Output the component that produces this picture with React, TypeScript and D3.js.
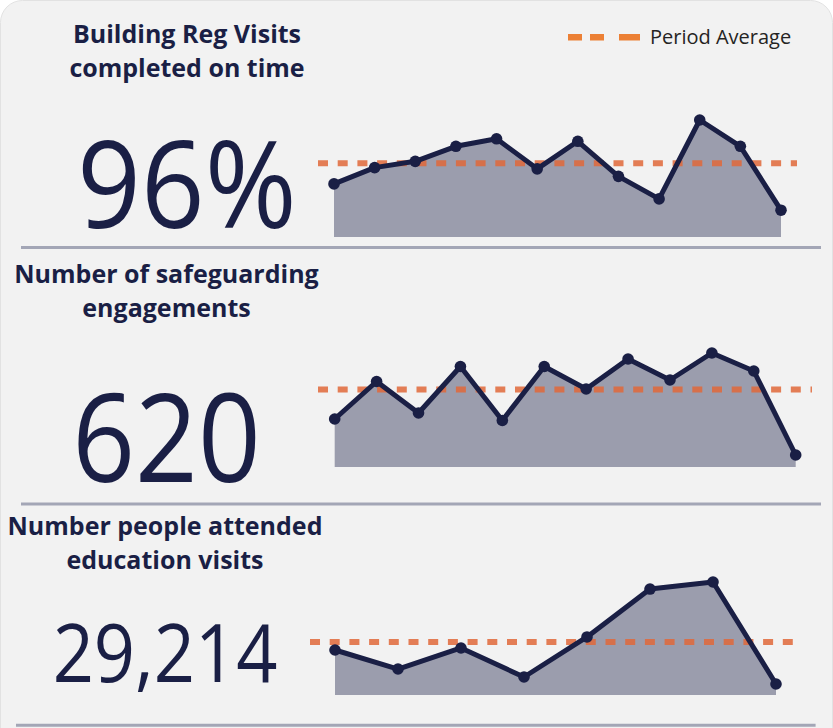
import React from 'react';
import * as d3 from 'd3';

// --- data ---
const buildingRegMonths = ['Apr', 'May', 'Jun', 'Jul', 'Aug', 'Sep', 'Oct', 'Nov', 'Dec', 'Jan', 'Feb', 'Mar'];
const buildingRegOnTime = [94.4, 95.7, 96.2, 97.4, 98.0, 95.6, 97.8, 95.0, 93.2, 99.5, 97.4, 92.3];

const safeguardingMonths = ['Apr', 'May', 'Jun', 'Jul', 'Aug', 'Sep', 'Oct', 'Nov', 'Dec', 'Jan', 'Feb', 'Mar'];
const safeguardingEngagements = [32, 57, 36, 67, 31, 67, 52, 72, 58, 76, 64, 8];

const educationMonths = ['Sep', 'Oct', 'Nov', 'Dec', 'Jan', 'Feb', 'Mar', 'Apr'];
const educationAttendees = [3100, 1790, 3240, 1240, 4000, 7300, 7786, 758];

const legendLabel = 'Period Average';

// --- layout ---
const W = 833;
const H = 728;
const NAVY = '#1a1f45';
const ORANGE = '#e0683a';
const FONT = '"Segoe UI", "Open Sans", sans-serif';

const panels = [
  {
    title: ['Building Reg Visits', 'completed on time'],
    cats: buildingRegMonths,
    values: buildingRegOnTime,
    big: (v: number[]) => d3.format('.0f')(d3.mean(v)!) + '%',
    yMin: 90.16,
    cx: 187, titleY: 42.5, numY: 228, numSize: 121, numScale: 0.92,
    xRange: [334, 781], yRange: [237, 120], avgRange: [318, 797],
    sepY: 247.5, sepX: [21, 821],
  },
  {
    title: ['Number of safeguarding', 'engagements'],
    cats: safeguardingMonths,
    values: safeguardingEngagements,
    big: (v: number[]) => d3.format(',')(d3.sum(v)),
    yMin: 0,
    cx: 166.5, titleY: 283.3, numY: 482, numSize: 122, numScale: 0.9,
    xRange: [334.7, 795.7], yRange: [467, 353], avgRange: [318, 812],
    sepY: 504, sepX: [21, 821],
  },
  {
    title: ['Number people attended', 'education visits'],
    cats: educationMonths,
    values: educationAttendees,
    big: (v: number[]) => d3.format(',')(d3.sum(v)),
    yMin: 0,
    cx: 165, titleY: 535, numY: 681.5, numSize: 81, numScale: 0.89,
    xRange: [335, 776], yRange: [695, 582], avgRange: [310, 793],
    sepY: 725.3, sepX: [16, 815.6],
  },
];

const Sparkline = ({ p }: { p: typeof panels[number] }) => {
  const x = d3.scalePoint<string>().domain(p.cats).range(p.xRange as [number, number]);
  const y = d3
    .scaleLinear()
    .domain([p.yMin, d3.max(p.values)!])
    .range(p.yRange as [number, number]);
  const pts = p.cats.map((c, i) => ({ c, v: p.values[i] }));
  const area = d3
    .area<{ c: string; v: number }>()
    .x(d => x(d.c)!)
    .y0(y(p.yMin))
    .y1(d => y(d.v));
  const line = d3
    .line<{ c: string; v: number }>()
    .x(d => x(d.c)!)
    .y(d => y(d.v));
  const avg = d3.mean(p.values)!;

  return (
    <g>
      <text
        x={p.cx}
        y={p.titleY}
        textAnchor="middle"
        fontFamily={FONT}
        fontWeight={700}
        fontSize={25}
        fill={NAVY}
      >
        <tspan x={p.cx}>{p.title[0]}</tspan>
        <tspan x={p.cx} dy={34}>{p.title[1]}</tspan>
      </text>
      {/* headline figure, squeezed a little to get Segoe-like width */}
      <text
        transform={`translate(${p.cx},${p.numY}) scale(${p.numScale},1)`}
        textAnchor="middle"
        fontFamily={FONT}
        fontWeight={370}
        fontSize={p.numSize}
        fill={NAVY}
      >
        {p.big(p.values)}
      </text>

      <path d={area(pts)!} fill={NAVY} fillOpacity={0.4} />
      <line
        x1={p.avgRange[0]}
        x2={p.avgRange[1]}
        y1={y(avg)}
        y2={y(avg)}
        stroke={ORANGE}
        strokeOpacity={0.85}
        strokeWidth={6}
        strokeDasharray="10 9.7"
      />
      <path d={line(pts)!} fill="none" stroke={NAVY} strokeWidth={5} strokeLinejoin="round" />
      {pts.map(d => (
        <circle key={d.c} cx={x(d.c)} cy={y(d.v)} r={5.8} fill={NAVY} />
      ))}

      <line
        x1={p.sepX[0]}
        x2={p.sepX[1]}
        y1={p.sepY}
        y2={p.sepY}
        stroke="#a3a6b6"
        strokeWidth={3}
      />
    </g>
  );
};

export default function App() {
  return (
    <svg
      width={W}
      height={H}
      style={{ position: 'absolute', left: 0, top: 0, background: '#ffffff' }}
    >
      <rect x={0.5} y={0.5} width={W - 1} height={H + 40} rx={22} fill="#f2f2f2" stroke="#e2e2e2" />

      {/* legend */}
      <line
        x1={568}
        x2={640}
        y1={37.3}
        y2={37.3}
        stroke="#ec8035"
        strokeWidth={6.5}
        strokeDasharray="14 8 14 15 21"
      />
      <text x={650} y={43.5} fontFamily={FONT} fontSize={20} fill="#252423">
        {legendLabel}
      </text>

      {panels.map((p, i) => (
        <Sparkline key={i} p={p} />
      ))}
    </svg>
  );
}
